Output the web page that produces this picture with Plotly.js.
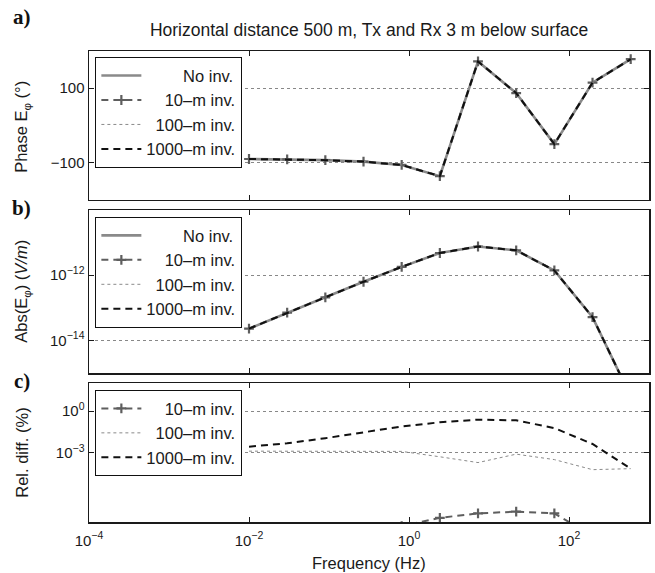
<!DOCTYPE html>
<html>
<head>
<meta charset="utf-8">
<script src="https://cdn.plot.ly/plotly-3.0.1.min.js"></script>
<style>html,body{margin:0;padding:0;background:#fff;}#chart{width:655px;height:573px;}</style>
</head>
<body>
<div id="chart"></div>
<script>
// Frequencies (Hz)
var freqs = [0.01, 0.03, 0.09, 0.27, 0.81, 2.43, 7.29, 21.87, 65.61, 196.83, 590.49];
// Panel a: phase of E_phi (degrees)
var phase = [-90, -91, -93, -97, -106, -136, 172, 87, -50, 115, 178];
// Panel b: |E_phi| (V/m)
var absE = [2.3e-14, 7.1e-14, 2.1e-13, 6.3e-13, 1.8e-12, 4.8e-12, 7.6e-12, 5.8e-12, 1.4e-12, 5.2e-14, 1.9e-16];
// Panel c: relative differences (%)
var rel10 = [1e-10, 1e-10, 1e-10, 1e-10, 5e-9, 2e-8, 4.2e-8, 5.6e-8, 4.2e-8, 1e-9, 3e-10];
var rel100 = [1.3e-3, 1.3e-3, 1.3e-3, 1.3e-3, 1.25e-3, 5.1e-4, 1.95e-4, 7.9e-4, 3.2e-4, 6e-5, 7.1e-5];
var rel1000 = [2.75e-3, 4.8e-3, 1.12e-2, 2.9e-2, 7.9e-2, 0.158, 0.245, 0.219, 0.06, 4.3e-3, 7.1e-5];
// Labels (NBSP padding right-aligns the legend texts)
var NB = '\u00a0';
var seriesNames = [NB.repeat(8) + 'No inv.', NB.repeat(4) + '10\u2013m inv.', NB.repeat(2) + '100\u2013m inv.', '1000\u2013m inv.'];
var xTickVals = [1e-4, 1e-2, 1, 1e2];
var xTickText = ['10<sup>\u22124</sup>', '10<sup>\u22122</sup>', '10<sup>0</sup>', '10<sup>2</sup>'];
var aTickVals = [-100, 100];
var aTickText = ['\u2212100', '100'];
var bTickVals = [1e-14, 1e-12];
var bTickText = ['10<sup>\u221214</sup>', '10<sup>\u221212</sup>'];
var cTickVals = [1e-3, 1];
var cTickText = ['10<sup>\u22123</sup>', '10<sup>0</sup>'];
var yTitles = ['Phase E<sub>\u03c6</sub> (\u00b0)', 'Abs(E<sub>\u03c6</sub>) (<i>V/m</i>)', 'Rel. diff. (%)'];
var panelLabels = ['a)', 'b)', 'c)'];

var styles = [
  {color: '#8a8a8a', width: 2.6, dash: 'solid'},
  {color: '#5e5e5e', width: 2, dash: '7px,5px'},
  {color: '#8a8a8a', width: 1, dash: 'dot'},
  {color: '#111111', width: 2, dash: '7px,5px'}
];

function mk(x, y, idx, xa, ya, leg) {
  var t = {x: x, y: y, name: seriesNames[idx], type: 'scatter', mode: 'lines',
    xaxis: xa, yaxis: ya, legend: leg,
    line: {color: styles[idx].color, width: styles[idx].width, dash: styles[idx].dash}};
  if (idx === 1) {
    t.mode = 'lines+markers';
    t.marker = {symbol: 'cross-thin', size: 7, line: {color: styles[idx].color, width: 2.2}};
  }
  return t;
}

var data = [
  mk(freqs, phase, 0, 'x', 'y', 'legend'),
  mk(freqs, phase, 1, 'x', 'y', 'legend'),
  mk(freqs, phase, 2, 'x', 'y', 'legend'),
  mk(freqs, phase, 3, 'x', 'y', 'legend'),
  mk(freqs, absE, 0, 'x2', 'y2', 'legend2'),
  mk(freqs, absE, 1, 'x2', 'y2', 'legend2'),
  mk(freqs, absE, 2, 'x2', 'y2', 'legend2'),
  mk(freqs, absE, 3, 'x2', 'y2', 'legend2'),
  mk(freqs, rel10, 1, 'x3', 'y3', 'legend3'),
  mk(freqs, rel100, 2, 'x3', 'y3', 'legend3'),
  mk(freqs, rel1000, 3, 'x3', 'y3', 'legend3')
];

var FAM = 'Liberation Sans, Arial, sans-serif';
var tickFnt = {family: FAM, size: 15, color: '#1a1a1a'};
var labFnt = {family: FAM, size: 16.5, color: '#1a1a1a'};
function xax(anchor, labels) {
  return {type: 'log', range: [-4, 3], anchor: anchor, showline: true, mirror: 'ticks',
    linecolor: '#1a1a1a', linewidth: 1.5, ticks: 'inside', ticklen: 5, tickcolor: '#1a1a1a',
    tickvals: xTickVals, ticktext: xTickText, showticklabels: labels, showgrid: false,
    zeroline: false, tickfont: tickFnt, ticklabelstandoff: 4};
}
function yax(dom, type, range, tv, tt) {
  return {domain: dom, type: type, range: range, showline: true, mirror: 'ticks',
    linecolor: '#1a1a1a', linewidth: 1.5, ticks: 'inside', ticklen: 5, tickcolor: '#1a1a1a',
    tickvals: tv, ticktext: tt, showgrid: true, gridcolor: '#888', griddash: 'dot', gridwidth: 1,
    zeroline: false, tickfont: tickFnt, automargin: false};
}
function leg(ytop) {
  return {x: 0.011, y: ytop, xanchor: 'left', yanchor: 'top', bgcolor: '#fff',
    bordercolor: '#111', borderwidth: 1.2, font: labFnt, tracegroupgap: 0, itemwidth: 40};
}

var panelY = [1.072, 0.667, 0.299];
var titleY = [0.839, 0.489, 0.147];
var annotations = [];
for (var i = 0; i < 3; i++) {
  annotations.push({text: '<b>' + panelLabels[i] + '</b>', xref: 'paper', yref: 'paper',
    x: -0.12, y: panelY[i], xanchor: 'center', yanchor: 'middle', showarrow: false,
    font: {family: 'Liberation Serif, Times New Roman, serif', size: 21, color: '#111'}});
  annotations.push({text: yTitles[i], xref: 'paper', yref: 'paper', textangle: -90,
    x: -0.1196, y: titleY[i], xanchor: 'center', yanchor: 'middle', showarrow: false, font: labFnt});
}
annotations.push({text: 'Frequency (Hz)', xref: 'paper', yref: 'paper', x: 0.5, y: -0.087,
  showarrow: false, xanchor: 'center', yanchor: 'middle', font: labFnt});

var layout = {
  width: 655, height: 573,
  margin: {l: 89, r: 6, t: 51, b: 51},
  paper_bgcolor: '#fff', plot_bgcolor: '#fff',
  font: labFnt,
  showlegend: true,
  title: {text: 'Horizontal distance 500 m, Tx and Rx 3 m below surface',
    font: {family: FAM, size: 17.5, color: '#1a1a1a'},
    x: 0.5635, xanchor: 'center', y: 0.947, yanchor: 'middle'},
  xaxis: xax('y', false),
  xaxis2: xax('y2', false),
  xaxis3: xax('y3', true),
  yaxis: yax([0.6837, 1], 'linear', [-200, 200], aTickVals, aTickText),
  yaxis2: yax([0.3163, 0.6624], 'log', [-15, -10], bTickVals, bTickText),
  yaxis3: yax([0, 0.2941], 'log', [-8, 2], cTickVals, cTickText),
  legend: leg(0.987),
  legend2: leg(0.6476),
  legend3: leg(0.2803),
  annotations: annotations
};

Plotly.newPlot('chart', data, layout, {staticPlot: true, displayModeBar: false});
</script>
</body>
</html>
